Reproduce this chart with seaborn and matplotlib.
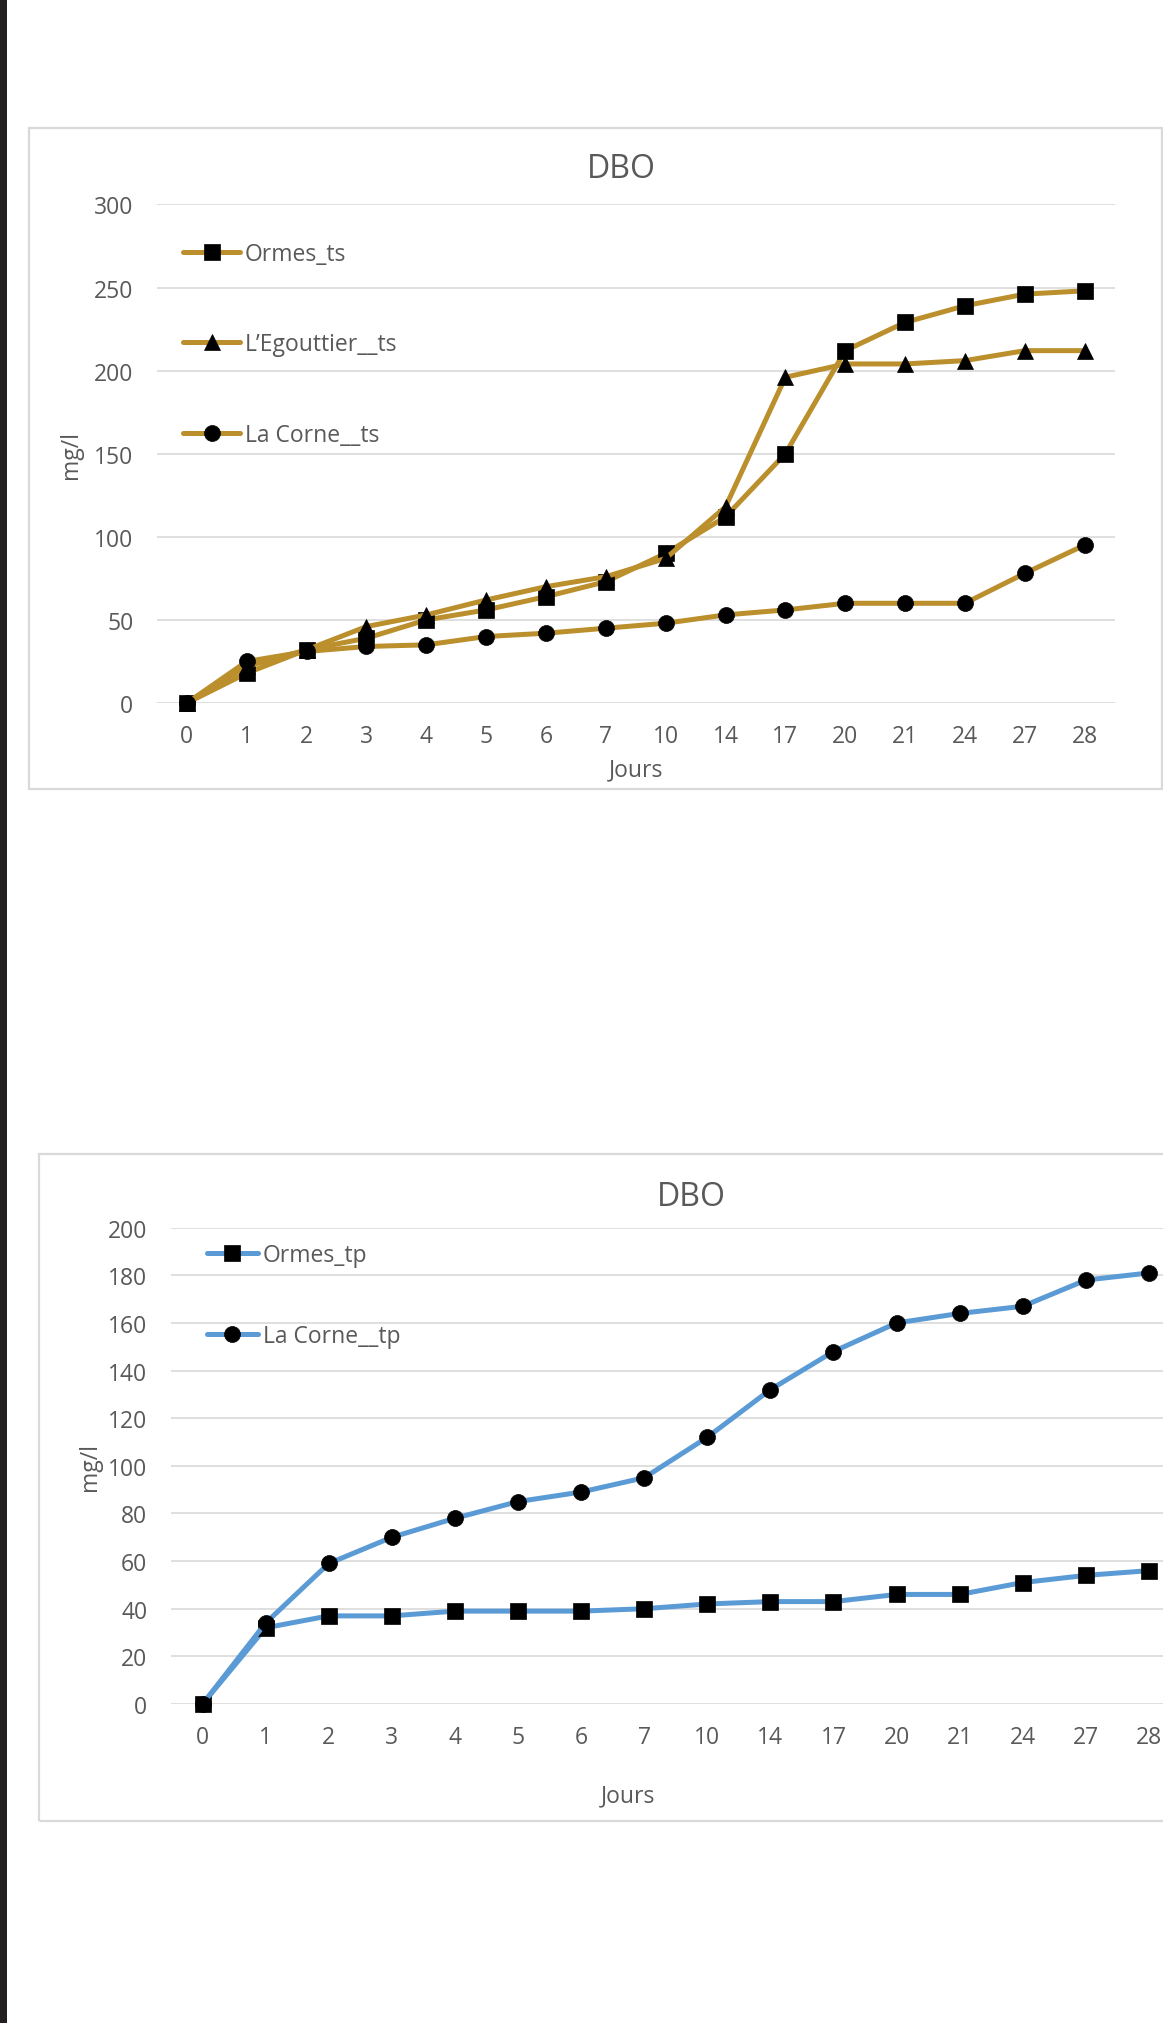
import numpy as np
import pandas as pd
import matplotlib
matplotlib.use("Agg")
import matplotlib.pyplot as plt
from matplotlib.patches import Rectangle
import seaborn as sns

# ---------------- data ----------------
jours = ["0", "1", "2", "3", "4", "5", "6", "7", "10", "14", "17", "20", "21", "24", "27", "28"]

ormes_ts = [0, 18, 32, 39, 50, 56, 64, 73, 90, 112, 150, 212, 229, 239, 246, 248]
egouttier_ts = [0, 22, 32, 46, 53, 62, 70, 76, 87, 118, 196, 204, 204, 206, 212, 212]
lacorne_ts = [0, 25, 31, 34, 35, 40, 42, 45, 48, 53, 56, 60, 60, 60, 78, 95]

ormes_tp = [0, 32, 37, 37, 39, 39, 39, 40, 42, 43, 43, 46, 46, 51, 54, 56]
lacorne_tp = [0, 34, 59, 70, 78, 85, 89, 95, 112, 132, 148, 160, 164, 167, 178, 181]

labels_ts = ["Ormes_ts", "L\u2019Egouttier__ts", "La Corne__ts"]
labels_tp = ["Ormes_tp", "La Corne__tp"]
title = "DBO"
xlabel = "Jours"
ylabel = "mg/l"

# ---------------- style ----------------
sns.set_theme(style="white")
plt.rcParams["font.family"] = ["Open Sans", "DejaVu Sans"]

W, H = 1163, 2024
fig = plt.figure(figsize=(W / 100, H / 100), dpi=100)
fig.patch.set_facecolor("white")

GOLD = "#BA8F2C"
BLUE = "#5B9BD5"
GRID = "#D9D9D9"
TXT = "#595959"
FS = 16.5


def fig_rect(x0, y0, x1, y1):
    """pixel box (top-left origin) -> figure fraction [l, b, w, h]"""
    return [x0 / W, 1 - y1 / H, (x1 - x0) / W, (y1 - y0) / H]


def frame(x0, y0, x1, y1):
    l, b, w, h = fig_rect(x0, y0, x1, y1)
    fig.add_artist(Rectangle((l, b), w, h, transform=fig.transFigure,
                             fill=False, edgecolor=GRID, linewidth=1.6, zorder=0))


# black left strip of the screenshot
l, b, w, h = fig_rect(0, 0, 7, H)
fig.add_artist(Rectangle((l, b), w, h, transform=fig.transFigure,
                         facecolor="#231F20", edgecolor="none", zorder=5))

xpos = np.arange(len(jours))


def style_axes(ax, ymax, ystep):
    ax.set_xlim(-0.5, len(jours) - 0.5)
    ax.set_ylim(0, ymax)
    ax.set_yticks(np.arange(0, ymax + 1, ystep))
    ax.set_xticks(xpos)
    ax.set_xticklabels(jours)
    for s in ax.spines.values():
        s.set_visible(False)
    ax.yaxis.grid(True, color=GRID, linewidth=1.2)
    ax.xaxis.grid(False)
    ax.set_axisbelow(True)
    ax.tick_params(axis="y", length=0, pad=17, labelsize=FS, labelcolor=TXT)
    ax.tick_params(axis="x", length=0, pad=15, labelsize=FS, labelcolor=TXT)
    ax.set_facecolor("none")
    ax.set_xlabel("")
    ax.set_ylabel("")


def draw(ax, series, labels, markers, color):
    for vals, lab, mk in zip(series, labels, markers):
        df = pd.DataFrame({"x": xpos, "y": vals})
        sns.lineplot(data=df, x="x", y="y", ax=ax, color=color, linewidth=3.6,
                     marker=mk, markersize=11.5, markerfacecolor="black",
                     markeredgecolor="black", markeredgewidth=0.5,
                     label=lab, clip_on=False, sort=False)


# ---------------- chart 1 ----------------
frame(29, 128.7, 1161.5, 790)
ax1 = fig.add_axes(fig_rect(157, 205.4, 1114.5, 704))
draw(ax1, [ormes_ts, egouttier_ts, lacorne_ts], labels_ts, ["s", "^", "o"], GOLD)
style_axes(ax1, 300, 50)
ax1.text(0.4846, 1.073, title, transform=ax1.transAxes, ha="center", va="center",
         fontsize=23, color=TXT)
ax1.text(0.500, -0.1324, xlabel, transform=ax1.transAxes, ha="center", va="center",
         fontsize=FS, color=TXT)
ax1.text(-0.0898, 0.4994, ylabel, transform=ax1.transAxes, ha="center", va="center",
         rotation=90, fontsize=FS, color=TXT)
leg1 = ax1.legend(loc="upper left", bbox_to_anchor=((183 - 157) / 957.5, (704 - 243) / 498.6),
                  frameon=False, fontsize=FS, handlelength=2.5, handletextpad=0.2,
                  labelspacing=2.9, borderpad=0, borderaxespad=0)
for t in leg1.get_texts():
    t.set_color(TXT)

# ---------------- chart 2 ----------------
frame(39, 1155, 1250, 1822)
ax2 = fig.add_axes(fig_rect(171, 1228.7, 1180.5, 1705))
draw(ax2, [ormes_tp, lacorne_tp], labels_tp, ["s", "o"], BLUE)
style_axes(ax2, 200, 20)
ax2.text(0.5156, 1.0645, title, transform=ax2.transAxes, ha="center", va="center",
         fontsize=23, color=TXT)
ax2.text(0.4527, -0.1925, xlabel, transform=ax2.transAxes, ha="center", va="center",
         fontsize=FS, color=TXT)
ax2.text(-0.0802, 0.4997, ylabel, transform=ax2.transAxes, ha="center", va="center",
         rotation=90, fontsize=FS, color=TXT)
leg2 = ax2.legend(loc="upper left", bbox_to_anchor=((206.7 - 171) / 1009.5, (1705 - 1244.5) / 476.3),
                  frameon=False, fontsize=FS, handlelength=2.25, handletextpad=0.2,
                  labelspacing=2.47, borderpad=0, borderaxespad=0)
for t in leg2.get_texts():
    t.set_color(TXT)

fig.savefig("out.png", dpi=100)
